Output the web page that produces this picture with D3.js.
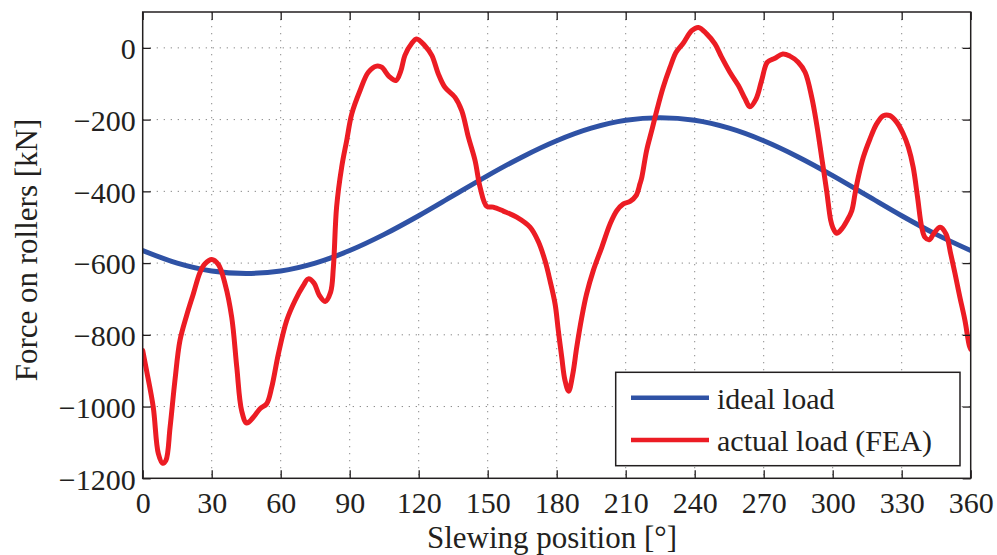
<!DOCTYPE html>
<html>
<head>
<meta charset="utf-8">
<script src="https://cdn.jsdelivr.net/npm/d3@7/dist/d3.min.js"></script>
<style>
  html, body { margin: 0; padding: 0; background: #fff; }
  svg { display: block; }
  text { font-family: "Liberation Serif", "DejaVu Serif", serif; fill: #231f20; }
</style>
</head>
<body>
<svg id="chart" width="997" height="555"></svg>
<script>
// Axis ticks
const angleTicks = [0, 30, 60, 90, 120, 150, 180, 210, 240, 270, 300, 330, 360];
const forceTicks = [-1200, -1000, -800, -600, -400, -200, 0];

// Ideal roller load over one revolution [deg, kN]
const idealAngle = [0, 15, 30, 45, 60, 75, 90, 105, 120, 135, 150, 165, 180,
                    195, 210, 225, 240, 255, 270, 285, 300, 315, 330, 345, 360];
const idealLoad = [-565, -600, -622, -629, -622, -600, -565, -520, -468, -412, -356, -304, -259,
                   -224, -202, -195, -202, -224, -259, -304, -356, -412, -468, -520, -565];

// Roller load from the FEA model [deg, kN]
const feaAngle = [0, 1.7, 4.6, 6.8, 8.7, 10.1, 11.9, 14.0, 16.2, 19.1, 22.0, 24.9, 27.1, 30.0,
  32.9, 35.8, 38.7, 40.9, 43.0, 45.2, 48.1, 51.0, 53.9, 56.1, 59.0, 62.6, 66.2, 69.8, 72.0,
  74.5, 76.8, 79.3, 81.7, 82.9, 84.3, 86.5, 88.7, 90.9, 94.5, 98.1, 101.7, 103.9, 107.2,
  110.1, 112.2, 114.0, 117.0, 119.1, 122.7, 125.7, 128.5, 131.4, 135.8, 138.7, 141.6,
  144.5, 146.7, 149.6, 152.4, 156.8, 162.6, 168.4, 172.0, 175.0, 177.1, 179.3, 180.7,
  182.2, 183.6, 185.2, 187.0, 188.7, 190.9, 193.0, 195.9, 199.6, 203.2, 206.1, 209.0,
  211.9, 214.5, 216.2, 217.0, 219.1, 221.3, 223.5, 226.3, 229.3, 231.9, 235.0, 238.7,
  241.6, 245.2, 248.8, 251.7, 255.3, 259.0, 261.9, 264.0, 266.7, 269.1, 271.6, 274.9,
  278.3, 281.4, 285.0, 288.0, 290.9, 293.0, 295.2, 297.4, 299.1, 300.0, 301.7, 303.9,
  306.1, 308.3, 309.7, 311.1, 313.3, 316.2, 319.1, 322.0, 324.9, 327.8, 330.7, 332.9,
  335.0, 336.9, 338.7, 340.1, 342.0, 344.0, 346.7, 349.3, 351.3, 353.2, 355.3, 357.5,
  359.4, 360];
const feaLoad = [-844, -900, -1002, -1131, -1158, -1150, -1058, -928, -816, -746, -686, -626, -602, -590,
  -604, -658, -751, -890, -1011, -1046, -1030, -1006, -992, -946, -853, -760, -705, -663, -644,
  -656, -690, -707, -681, -612, -444, -333, -258, -184, -119, -68, -51, -54, -80,
  -91, -65, -21, 13, 25, 6, -21, -72, -110, -138, -175, -249,
  -314, -389, -442, -444, -455, -472, -500, -540, -595, -649, -714, -788,
  -863, -927, -957, -909, -835, -751, -686, -621, -556, -491, -454, -435,
  -428, -412, -379, -361, -286, -231, -175, -110, -54, -12, 13, 48,
  57, 39, 11, -26, -68, -105, -142, -164, -142, -91, -40, -29,
  -17, -23, -40, -68, -138, -212, -305, -400, -480, -500, -517, -505,
  -483, -454, -407, -361, -305, -254, -212, -189, -189, -207, -240, -277,
  -333, -417, -500, -528, -535, -517, -500, -519, -574, -630, -695, -760,
  -830, -840];

const seriesNames = ["ideal load", "actual load (FEA)"];
const seriesColors = ["#2f52a5", "#ec1c24"];

const svg = d3.select("#chart");
const plot = { left: 142.7, right: 970.7, top: 12, bottom: 478.3 };

const x = d3.scaleLinear().domain([0, 360]).range([plot.left, plot.right]);
const y = d3.scaleLinear().domain([-1200, 100]).range([plot.bottom, plot.top]);

svg.append("defs").append("clipPath").attr("id", "plotClip")
  .append("rect")
  .attr("x", plot.left).attr("y", plot.top)
  .attr("width", plot.right - plot.left).attr("height", plot.bottom - plot.top);

// Dotted grid
const grid = svg.append("g").attr("stroke", "#8a8a8a").attr("stroke-width", 1)
  .attr("stroke-dasharray", "1.3,5.7");
grid.selectAll("line.vx").data(angleTicks.slice(1, -1)).join("line")
  .attr("x1", d => x(d)).attr("x2", d => x(d))
  .attr("y1", plot.top).attr("y2", plot.bottom);
grid.selectAll("line.hy").data(forceTicks.slice(1)).join("line")
  .attr("y1", d => y(d)).attr("y2", d => y(d))
  .attr("x1", plot.left).attr("x2", plot.right);

// Curves
const lines = svg.append("g").attr("clip-path", "url(#plotClip)")
  .attr("fill", "none").attr("stroke-width", 5)
  .attr("stroke-linejoin", "round").attr("stroke-linecap", "round");

const line = d3.line().x(d => x(d[0])).y(d => y(d[1])).curve(d3.curveCatmullRom.alpha(0.5));

lines.append("path")
  .datum(idealAngle.map((a, i) => [a, idealLoad[i]]))
  .attr("stroke", seriesColors[0]).attr("d", line);
lines.append("path")
  .datum(feaAngle.map((a, i) => [a, feaLoad[i]]))
  .attr("stroke", seriesColors[1]).attr("d", line);

// Axes: ticks point inward on all four sides
const tickLen = 8;
const fmt = d3.format("");
const axisStyle = g => {
  g.select(".domain").remove();
  g.selectAll(".tick line").attr("stroke", "#231f20").attr("stroke-width", 1.3);
  g.selectAll("text").style("font-family", "'Liberation Serif', serif")
    .style("font-size", "30px").attr("fill", "#231f20");
};

svg.append("g").attr("transform", `translate(0,${plot.bottom})`)
  .call(d3.axisBottom(x).tickValues(angleTicks).tickSize(-tickLen).tickPadding(0).tickFormat(fmt))
  .call(axisStyle)
  .call(g => g.selectAll("text").attr("y", 35).attr("dy", null));

svg.append("g").attr("transform", `translate(0,${plot.top})`)
  .call(d3.axisTop(x).tickValues(angleTicks).tickSize(-tickLen).tickFormat(""))
  .call(axisStyle);

svg.append("g").attr("transform", `translate(${plot.left},0)`)
  .call(d3.axisLeft(y).tickValues(forceTicks).tickSize(-tickLen).tickPadding(0)
    .tickFormat(d => d < 0 ? "\u2212" + Math.abs(d) : String(d)))
  .call(axisStyle)
  .call(g => g.selectAll("text").attr("x", -7).attr("dy", "0.36em"));

svg.append("g").attr("transform", `translate(${plot.right},0)`)
  .call(d3.axisRight(y).tickValues(forceTicks).tickSize(-tickLen).tickFormat(""))
  .call(axisStyle);

// Frame
svg.append("rect")
  .attr("x", plot.left).attr("y", plot.top)
  .attr("width", plot.right - plot.left).attr("height", plot.bottom - plot.top)
  .attr("fill", "none").attr("stroke", "#231f20").attr("stroke-width", 1.5);

// Axis titles
svg.append("text")
  .attr("x", 552).attr("y", 548)
  .attr("text-anchor", "middle")
  .style("font-size", "31px")
  .text("Slewing position [\u00B0]");

svg.append("text")
  .attr("transform", "translate(37,250) rotate(-90)")
  .attr("text-anchor", "middle")
  .style("font-size", "31px")
  .text("Force on rollers [kN]");

// Legend
const legend = svg.append("g");
legend.append("rect")
  .attr("x", 615.7).attr("y", 372.3).attr("width", 344.3).attr("height", 93.4)
  .attr("fill", "#fff").attr("stroke", "#231f20").attr("stroke-width", 1.5);

const legendRows = legend.selectAll("g.row").data(seriesNames).join("g")
  .attr("transform", (d, i) => `translate(0,${397.7 + i * 42.3})`);
legendRows.append("line")
  .attr("x1", 631).attr("x2", 709).attr("y1", 0).attr("y2", 0)
  .attr("stroke", (d, i) => seriesColors[i]).attr("stroke-width", 4.5);
legendRows.append("text")
  .attr("x", 717).attr("y", 11)
  .style("font-size", "30px")
  .text(d => d);
</script>
</body>
</html>
